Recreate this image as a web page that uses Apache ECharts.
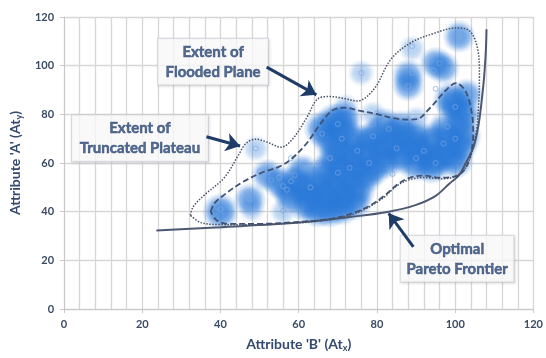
<!DOCTYPE html>
<html><head><meta charset="utf-8">
<script src="https://cdn.jsdelivr.net/npm/echarts@6/dist/echarts.min.js"></script>
<style>html,body{margin:0;padding:0;background:#fff}#c{width:546px;height:358px}</style>
</head><body><div id="c"></div>
<script>
// ---------- data ----------
const xTitle = "Attribute 'B' (At{s|x})";
const yTitle = "Attribute 'A' (At{s|y})";
const xLabelValues = [0, 20, 40, 60, 80, 100, 120];
const yLabelValues = [0, 20, 40, 60, 80, 100, 120];

const paretoFrontier = [[23.6,32.3],[40,33.6],[60,35.5],[73,37.8],[83,40],[90,42.8],[95,46.5],[98.5,51.5],[101,55],[102.7,60],[104.7,66.7],[106,76],[107.2,92],[107.8,105],[108,115]];

const truncatedPlateau = [[37.5,40],[38.5,43.5],[41,47],[45.5,52],[50.5,56],[55,58.5],[58,61.5],[62,68],[65.5,76],[68.5,81.5],[71.8,82.7],[75.5,81.5],[79.3,80.3],[84,78.5],[88,77.8],[90.2,78],[93.5,82.5],[97.7,90],[100.2,92.8],[102.7,89.3],[104.3,80],[104.6,72],[104,64],[102.5,57.5],[100,54.5],[96,54],[92,54.8],[88.5,54],[85.5,51.5],[82,46.7],[78.5,42.8],[74,39.5],[68,37],[60,35.8],[50,35],[42,35],[39,36.5],[37.5,40]];

const floodedPlane = [[32.3,38.5],[33,42],[36,47],[41,54],[44.5,63],[46.5,68],[49,69.8],[52,68.5],[55.5,66.5],[58.5,70],[62,78.5],[65,86.5],[68,87.3],[71,86.7],[75,85.5],[79.3,90.5],[83.5,102.5],[88.5,109.3],[95,113.5],[100.2,115.5],[103.5,114.5],[105.6,108],[106.2,96],[106,84],[105.3,72],[103.8,62],[101.5,56],[97,53.5],[92,54],[88,53],[85,50.5],[81.5,45.5],[77.5,41.5],[73,38.5],[66,36.3],[58,35.2],[48,34.6],[40,34.7],[35,35.5],[32.3,38.5]];

const denseCluster = [[62,43],[65,41],[68,41],[71,42],[74,44],[63,47],[67,46],[71,47],[75,49],[65,51],[69,51],[73,53],[77,55],[67,56],[71,57],[75,59],[79,58],[82,61],[69,61],[73,63],[77,64],[81,66],[70,66],[74,69],[78,69],[68,70],[71,73],[69,77],[71.5,78],[66,74],[84,67],[86,63],[89,66],[92,64],[95,62],[98,64],[101,67],[102,71],[98,70],[94,69],[90,70],[87,71],[100,61],[90,60],[94,59],[100,83],[102,80],[99,86],[40,40],[61,50]];
const mediumCluster = [[47.5,45],[52,55],[55,52],[57,49],[59,53],[58,46],[88,96],[88,92],[95,101],[97,99],[82,76],[86,75],[97,74],[101,76],[103,88],[61,57],[101,112],[80,72],[84,72]];
const sparseCluster = [[49,66],[56,40],[48,41],[76,97],[72,83],[79,80],[90,78],[89,107]];
const observations = [[49,66],[50,56.5],[47,47.7],[47.5,45],[47,41.5],[49,41.5],[40,41],[56,40.3],[53,53],[55,54],[56,50.5],[57,49],[58,52.5],[59,55],[58,62],[65,60],[66,72],[70,76],[71,70],[72,83],[76,97],[80,80.5],[79,76],[79,71],[83,74],[85,66],[84,55.5],[88,91.5],[89,97],[89,108],[88,78],[90,78],[94.5,98],[95,90.5],[96,101],[101,112],[100,83],[103,90],[97,68],[92,65],[90,62],[95,60],[100,70],[98,75],[75,65],[68,62],[73,58],[78,60],[63,50],[70,56]];

const calloutText = [['Extent of','Flooded Plane'],['Extent of','Truncated Plateau'],['Optimal','Pareto Frontier']];
const calloutAnchors = [[38.1,101.6],[19.4,70.2],[100.5,20.6]];
const arrowTails = [[51.8,99.4],[36.4,70.8],[89.3,25.5]];
const arrowTips = [[64.5,88],[45,67],[83,39.3]];

// ---------- chart ----------
const chart = echarts.init(document.getElementById('c'), null, {renderer:'canvas'});
const gridCol = '#d6d6d6';
const txtCol = '#3b4a66';
const rgb = '40,120,216';
const blue = a => new echarts.graphic.RadialGradient(0.5,0.5,0.5,[
  {offset:0,color:`rgba(${rgb},${a})`},
  {offset:0.35,color:`rgba(${rgb},${a})`},
  {offset:0.6,color:`rgba(${rgb},${a*0.75})`},
  {offset:0.8,color:`rgba(${rgb},${a*0.3})`},
  {offset:1,color:`rgba(${rgb},0)`}]);
const boxWidths = [104, 130, 107];
const calloutCol = '#2a4674';

chart.setOption({
  animation:false,
  backgroundColor:'#ffffff',
  grid:{left:56,right:10,top:17,bottom:41},
  xAxis:{
    type:'value',min:0,max:120,interval:20,
    name:xTitle,nameLocation:'middle',nameGap:26,
    nameTextStyle:{fontFamily:'Lato',fontWeight:'bold',fontSize:14,color:'#344a6e',
      rich:{s:{fontFamily:'Lato',fontWeight:'bold',fontSize:9,color:'#344a6e',padding:[9,0,0,0]}}},
    axisLine:{show:true,lineStyle:{color:'#c8c8c8',width:1}},
    axisTick:{show:true,length:4,lineStyle:{color:'#c8c8c8'}},
    axisLabel:{margin:10,fontFamily:'Lato',fontWeight:'bold',fontSize:11,color:txtCol,
      formatter:v=>xLabelValues.includes(v)?String(v):''},
    splitLine:{show:true,lineStyle:{color:gridCol,width:1.3}},
    minorTick:{show:false,splitNumber:5},
    minorSplitLine:{show:true,lineStyle:{color:gridCol,width:1.3}}
  },
  yAxis:{
    type:'value',min:0,max:120,interval:20,
    name:yTitle,nameLocation:'middle',nameGap:34,nameRotate:90,
    nameTextStyle:{fontFamily:'Lato',fontWeight:'bold',fontSize:14,color:'#344a6e',
      rich:{s:{fontFamily:'Lato',fontWeight:'bold',fontSize:9,color:'#344a6e',padding:[9,0,0,0]}}},
    axisLine:{show:true,lineStyle:{color:'#c8c8c8',width:1}},
    axisTick:{show:true,length:4,lineStyle:{color:'#c8c8c8'}},
    axisLabel:{margin:10,fontFamily:'Lato',fontWeight:'bold',fontSize:11,color:txtCol,
      formatter:v=>yLabelValues.includes(v)?String(v):''},
    splitLine:{show:true,lineStyle:{color:gridCol,width:1.3}}
  },
  series:[
    {type:'scatter',data:sparseCluster,symbolSize:28,itemStyle:{color:blue(0.4)},z:2,silent:true},
    {type:'scatter',data:mediumCluster,symbolSize:34,itemStyle:{color:blue(0.82)},z:2,silent:true},
    {type:'scatter',data:denseCluster,symbolSize:38,itemStyle:{color:blue(0.95)},z:2,silent:true},
    {type:'scatter',data:observations,symbolSize:5,itemStyle:{color:'rgba(0,0,0,0)',borderColor:'rgba(125,165,225,0.85)',borderWidth:1},z:3,silent:true},
    {type:'line',data:paretoFrontier,smooth:0.35,showSymbol:false,lineStyle:{color:'#4d5873',width:2},z:4},
    {type:'line',data:truncatedPlateau,smooth:0.35,showSymbol:false,lineStyle:{color:'#3f5275',width:1.8,type:[6,3]},z:4},
    {type:'line',data:floodedPlane,smooth:0.35,showSymbol:false,lineStyle:{color:'#4a5364',width:1.5,type:[1.5,1.5]},z:4},
    {type:'scatter',z:6,symbolSize:1,itemStyle:{color:'rgba(0,0,0,0)'},silent:true,
      data:calloutAnchors.map((p,i)=>({value:p,label:{
        show:true,position:'inside',
        formatter:`{w${i}|${calloutText[i][0]}}\n{w${i}|${calloutText[i][1]}}`,
        backgroundColor:'rgba(255,255,255,0.95)',borderColor:'#cdd2d8',borderWidth:1,
        padding:[3,3],shadowColor:'rgba(0,0,0,0.12)',shadowBlur:3,shadowOffsetX:1,shadowOffsetY:1,
        rich:{[`w${i}`]:{width:boxWidths[i],align:'center',lineHeight:20,fontFamily:'Lato',fontWeight:'bold',fontSize:15,color:calloutCol,
          textBorderColor:calloutCol,textBorderWidth:0.5}}
      }}))},
    {type:'lines',coordinateSystem:'cartesian2d',z:8,
      symbol:['none','arrow'],symbolSize:14,
      lineStyle:{color:'#1f3b68',width:3,opacity:1,curveness:0},
      data:arrowTails.map((t,i)=>({coords:[t,arrowTips[i]]}))}
  ]
});
</script></body></html>
